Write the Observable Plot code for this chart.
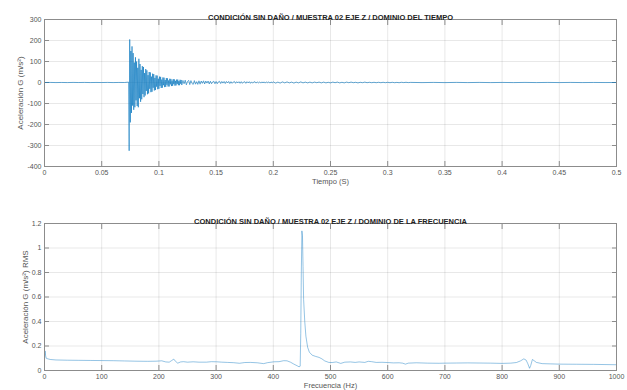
<!DOCTYPE html>
<html>
<head>
<meta charset="utf-8">
<script src="https://cdn.jsdelivr.net/npm/d3@7"></script>
<script src="https://cdn.jsdelivr.net/npm/@observablehq/plot@0.6"></script>
<style>
  html, body { margin: 0; padding: 0; background: #fff; }
  #wrap { position: relative; width: 627px; height: 390px; overflow: hidden; }
  #wrap > svg { position: absolute; left: 0; }
</style>
</head>
<body>
<div id="wrap"></div>
<script>
// ---- Time-domain record: uniformly sampled segments (start time, step, samples in m/s²) ----
const leadStart = 0, leadStep = 0.005;
const leadAccel = [0, 0.3, -0.3, 0.2, -0.3, 0.3, -0.2, 0.3, -0.3, 0.2, -0.2, 0.3, -0.3, 0.2, 0];

const burstStart = 0.0735, burstStep = 0.0005;
const burstAccel = [
  2, -325, 205, -190, 150, -145, 172, -110, 140, -130,
  95, -118, 120, -85, 100, -112, 70, -118, 113, -75,
  88, -92, 60, -80, 78, -55, 74, -70, 45, -62,
  64, -40, 58, -56, 35, -52, 50, -30, 48, -46,
  28, -44, 42, -25, 40, -38, 22, -36, 34, -20,
  33, -32, 18, -30, 28, -16, 27, -26, 14, -25,
  24, -13, 23, -22, 12, -21, 21, -11, 20, -19,
  10, -19, 18, -9, 17, -17, 9, -16, 16, -8,
  15, -15, 8, -14, 14, -7, 14, -13, 7, -13,
  13, -6, 12
];

const decayStart = 0.12, decayStep = 0.001;
const decayAccel = [
  -12, 10, -6, 11, -11, 5, 10, -10, 9, -5,
  -9, 9, -8, 4, -9, 8, -8, 7, -4, 8,
  -7, 7, -3, 7, -7, 6, -6, 3, 6, -6,
  5, -6, 3, 6, -5, 5, -3, 5, -5, 5,
  -2, 5, -5, 4, -4, 2, 5, -4, 4, -2,
  4, -4, 4, -4, 2, 4, -4, 4, -2, 4,
  -4, 3, -3, 2, 4, -3, 3, -2, 3, -3,
  3, -2, 3, -3, 3, -1, 3, -3, 3, -2
];

const tailStart = 0.2, tailStep = 0.002;
const tailAccel = [
  3, -3, 2, -3, 3, -2, 3, -2, 2, -3,
  2, -2, 3, -2, 2, -2, 2, -2, 2, -1,
  2, -2, 2, -2, 1, -2, 2, -1, 2, -2,
  1, -2, 2, -1, 2, -1, 1, -2, 1, -1,
  2, -1, 1, -1, 1, -1, 1, -1, 1, -1,
  1, -1, 1, -1, 0.5, -1, 1, -0.5, 1, -0.5
];

const restStart = 0.32, restStep = 0.01;
const restAccel = [0.5, -0.5, 0.4, -0.5, 0.5, -0.4, 0.4, -0.4, 0.3, -0.4, 0.4, -0.3, 0.3, -0.3, 0.3, -0.3, 0.2, -0.2, 0];

// ---- Frequency-domain spectrum (Hz, RMS m/s²) ----
const freqHz = [
  0, 1, 2, 3, 6, 10, 20, 40, 60, 80, 100, 120, 140, 160, 180, 195, 205, 212, 218, 222,
  226, 229, 233, 238, 243, 250, 260, 270, 283, 292, 301, 310, 320, 330, 341, 350, 360, 372, 383, 390,
  401, 410, 418, 424, 430, 436, 442, 445, 447, 448, 449, 450, 451, 452, 453, 455, 457, 460, 463, 468,
  474, 480, 485, 490, 497, 503, 510, 518, 525, 535, 543, 550, 560, 566, 572, 580, 590, 600, 610, 620,
  626, 631, 636, 650, 670, 690, 700, 720, 740, 760, 780, 800, 815, 825, 832, 838, 842, 845, 848, 850,
  853, 856, 860, 870, 885, 900, 930, 960, 1000
];
const freqAmp = [
  0.085, 0.16, 0.12, 0.1, 0.095, 0.09, 0.086, 0.084, 0.083, 0.082, 0.081, 0.08, 0.078, 0.076, 0.075, 0.076, 0.079, 0.07, 0.068, 0.08,
  0.093, 0.075, 0.06, 0.07, 0.072, 0.068, 0.071, 0.068, 0.068, 0.072, 0.071, 0.068, 0.066, 0.064, 0.059, 0.065, 0.066, 0.063, 0.056, 0.064,
  0.071, 0.072, 0.08, 0.079, 0.068, 0.052, 0.038, 0.03, 0.035, 0.3, 0.8, 1.14, 1.1, 0.85, 0.58, 0.4, 0.28, 0.19, 0.15, 0.125,
  0.115, 0.107, 0.095, 0.078, 0.066, 0.065, 0.07, 0.058, 0.068, 0.07, 0.066, 0.07, 0.066, 0.075, 0.072, 0.066, 0.067, 0.065, 0.062, 0.063,
  0.06, 0.052, 0.06, 0.063, 0.06, 0.059, 0.06, 0.061, 0.062, 0.061, 0.06, 0.058, 0.06, 0.065, 0.078, 0.095, 0.085, 0.055, 0.018, 0.04,
  0.09, 0.08, 0.066, 0.056, 0.054, 0.052, 0.051, 0.05, 0.047
];

// ---- Axis ticks ----
const timeTicks = [0, 0.05, 0.1, 0.15, 0.2, 0.25, 0.3, 0.35, 0.4, 0.45, 0.5];
const accelTicks = [-400, -300, -200, -100, 0, 100, 200, 300];
const freqTicks = [0, 100, 200, 300, 400, 500, 600, 700, 800, 900, 1000];
const ampTicks = [0, 0.2, 0.4, 0.6, 0.8, 1, 1.2];

// ---- Texts ----
const titleTime = "CONDICIÓN SIN DAÑO / MUESTRA 02 EJE Z / DOMINIO DEL TIEMPO";
const titleFreq = "CONDICIÓN SIN DAÑO / MUESTRA 02 EJE Z / DOMINIO DE LA FRECUENCIA";
const xLabelTime = "Tiempo (S)";
const yLabelTime = "Aceleración G (m/s²)";
const xLabelFreq = "Frecuencia (Hz)";
const yLabelFreq = "Aceleración G (m/s²) RMS";

// Expand the sampled segments into one record
const segments = [
  [leadStart, leadStep, leadAccel],
  [burstStart, burstStep, burstAccel],
  [decayStart, decayStep, decayAccel],
  [tailStart, tailStep, tailAccel],
  [restStart, restStep, restAccel]
];
const timeData = segments.flatMap(([start, step, vals]) => vals.map((a, i) => ({t: start + i * step, a})));
const freqData = freqHz.map((f, i) => ({f, a: freqAmp[i]}));

const LINE = "#0072BD";
const FRAME = "#8c8c8c";
const TICKTEXT = "#555";
const fmt = d => String(d);

// MATLAB-like boxed axes: grid, frame, inward ticks on all four sides
function boxedAxes(xt, yt) {
  return [
    Plot.gridX(xt, {stroke: "#000", strokeOpacity: 0.09, strokeWidth: 1}),
    Plot.gridY(yt, {stroke: "#000", strokeOpacity: 0.09, strokeWidth: 1}),
    Plot.axisX(xt, {anchor: "bottom", tickSize: 0, tickPadding: 4, tickFormat: fmt, label: null, fill: TICKTEXT}),
    Plot.axisY(yt, {anchor: "left", tickSize: 0, tickPadding: 3, tickFormat: fmt, label: null, fill: TICKTEXT}),
    Plot.axisX(xt, {anchor: "bottom", tickSize: -5, tickFormat: () => "", label: null, stroke: FRAME}),
    Plot.axisX(xt, {anchor: "top", tickSize: -5, tickFormat: () => "", label: null, stroke: FRAME}),
    Plot.axisY(yt, {anchor: "left", tickSize: -5, tickFormat: () => "", label: null, stroke: FRAME}),
    Plot.axisY(yt, {anchor: "right", tickSize: -5, tickFormat: () => "", label: null, stroke: FRAME})
  ];
}

function labels(title, xl, yl, yDx) {
  return [
    Plot.text([title], {frameAnchor: "top", dy: -5, text: d => d, fontWeight: "bold", fill: "#222", fontSize: 7.5, textAnchor: "middle"}),
    Plot.text([xl], {frameAnchor: "bottom", dy: 17.5, text: d => d, fill: TICKTEXT, fontSize: 7.5, textAnchor: "middle"}),
    Plot.text([yl], {frameAnchor: "left", dx: yDx, rotate: -90, text: d => d, fill: TICKTEXT, fontSize: 8, textAnchor: "middle"})
  ];
}

const style = {fontFamily: "'Liberation Sans', Arial, Helvetica, sans-serif", fontSize: "7px", background: "white", overflow: "visible"};

const timeChart = Plot.plot({
  width: 627, height: 195,
  marginTop: 19, marginBottom: 29, marginLeft: 44, marginRight: 11,
  style,
  x: {domain: [0, 0.5], axis: null},
  y: {domain: [-400, 300], axis: null},
  marks: [
    ...boxedAxes(timeTicks, accelTicks),
    Plot.line(timeData, {x: "t", y: "a", stroke: LINE, strokeWidth: 0.7, strokeOpacity: 0.85}),
    Plot.frame({stroke: FRAME, strokeWidth: 1}),
    ...labels(titleTime, xLabelTime, yLabelTime, -24)
  ]
});

const freqChart = Plot.plot({
  width: 627, height: 195,
  marginTop: 28, marginBottom: 20, marginLeft: 44, marginRight: 11,
  style,
  x: {domain: [0, 1000], axis: null},
  y: {domain: [0, 1.2], axis: null},
  marks: [
    ...boxedAxes(freqTicks, ampTicks),
    Plot.line(freqData, {x: "f", y: "a", stroke: LINE, strokeWidth: 0.6, strokeOpacity: 0.7}),
    Plot.frame({stroke: FRAME, strokeWidth: 1}),
    ...labels(titleFreq, xLabelFreq, yLabelFreq, -19)
  ]
});

const wrap = document.getElementById("wrap");
timeChart.style.top = "0px";
freqChart.style.top = "195px";
wrap.appendChild(timeChart);
wrap.appendChild(freqChart);
</script>
</body>
</html>
